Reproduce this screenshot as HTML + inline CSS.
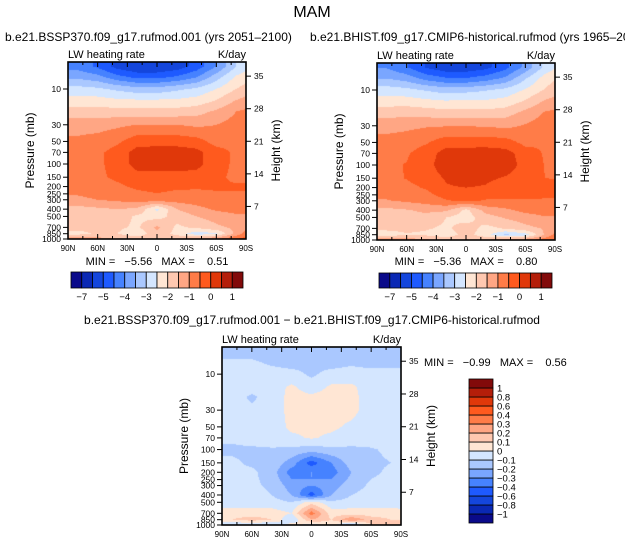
<!DOCTYPE html>
<html><head><meta charset="utf-8">
<style>
html,body{margin:0;padding:0;background:#fff;}
#wrap{position:relative;width:625px;height:545px;overflow:hidden;font-family:"Liberation Sans",sans-serif;}
canvas,svg{position:absolute;left:0;top:0;}
text{white-space:pre;}
</style></head>
<body>
<div id="wrap">
<canvas id="cv" width="625" height="545"></canvas>
<svg id="sv" width="625" height="545" xmlns="http://www.w3.org/2000/svg"></svg>
</div>
<script>
// ---- data ----
const pressures = [5,7,10,15,20,30,50,70,100,150,200,300,400,500,700,850,1000];
const lats = [90,70,50,30,10,-10,-30,-50,-70,-90];
const sspField = [
[-4.2,-4.6,-5.2,-5.5,-5.5,-5.3,-4.8,-4.0,-3.0,-2.4],
[-3.6,-3.8,-4.3,-4.6,-4.6,-4.4,-4.0,-3.2,-2.4,-2.0],
[-2.8,-2.9,-3.1,-3.3,-3.3,-3.1,-2.9,-2.5,-2.0,-1.6],
[-2.2,-2.2,-2.3,-2.3,-2.3,-2.3,-2.2,-1.9,-1.4,-1.1],
[-1.8,-1.8,-1.8,-1.8,-1.8,-1.8,-1.7,-1.4,-1.0,-0.8],
[-1.2,-1.2,-1.1,-1.0,-1.0,-1.0,-1.1,-1.0,-0.8,-0.7],
[-0.9,-0.8,-0.6,-0.2,-0.2,-0.2,-0.3,-0.7,-0.6,-0.5],
[-0.7,-0.6,-0.3,0.2,0.25,0.25,0.15,-0.3,-0.6,-0.6],
[-0.7,-0.6,-0.3,0.2,0.25,0.25,0.15,-0.3,-0.6,-0.6],
[-0.7,-0.6,-0.4,-0.2,-0.2,-0.2,-0.2,-0.4,-0.6,-0.6],
[-0.8,-0.7,-0.6,-0.4,-0.3,-0.4,-0.45,-0.45,-0.45,-0.45],
[-1.1,-1.0,-0.9,-0.8,-0.7,-0.8,-0.7,-0.6,-0.6,-0.6],
[-1.7,-1.6,-1.5,-1.6,-2.6,-1.5,-1.2,-0.9,-0.8,-0.8],
[-1.8,-1.7,-1.7,-2.1,-2.2,-1.8,-1.5,-1.3,-1.1,-1.1],
[-1.8,-1.8,-1.9,-2.1,-1.4,-2.1,-1.9,-1.6,-1.4,-0.8],
[-2.2,-1.9,-2.0,-2.4,-1.6,-2.2,-2.8,-2.6,-1.3,-0.3],
[-1.0,-1.3,-1.5,-1.6,-1.5,-1.5,-1.2,-1.0,-0.5,0.0]];
const diffField = [
[-0.15,-0.15,-0.15,-0.15,-0.15,-0.15,-0.15,-0.15,-0.15,-0.15],
[-0.08,-0.08,-0.12,-0.15,-0.12,-0.15,-0.12,-0.15,-0.15,-0.15],
[-0.05,-0.05,-0.05,-0.06,-0.12,-0.06,-0.05,-0.05,-0.05,-0.05],
[-0.05,-0.05,-0.05,0.02,-0.05,0.02,0.02,-0.05,-0.05,0.02],
[-0.05,-0.12,-0.05,0.03,0.02,0.04,0.03,-0.05,-0.05,0.02],
[-0.05,-0.08,-0.05,0.03,0.03,0.04,0.03,-0.05,-0.05,-0.02],
[-0.05,-0.05,-0.05,0.02,0.02,0.02,-0.02,-0.05,-0.05,-0.05],
[-0.08,-0.05,-0.05,-0.02,0.01,-0.02,-0.05,-0.05,-0.05,-0.05],
[-0.12,-0.12,-0.11,-0.12,-0.15,-0.12,-0.12,-0.11,-0.08,-0.08],
[-0.08,-0.12,-0.12,-0.25,-0.45,-0.3,-0.15,-0.12,-0.1,-0.08],
[-0.07,-0.08,-0.15,-0.35,-0.3,-0.35,-0.2,-0.12,-0.08,-0.07],
[-0.07,-0.08,-0.12,-0.25,-0.3,-0.25,-0.15,-0.08,-0.07,-0.07],
[-0.06,-0.06,-0.1,-0.2,-0.45,-0.2,-0.1,-0.06,-0.06,-0.06],
[-0.05,-0.05,-0.06,-0.1,0.05,-0.08,-0.06,-0.05,-0.05,-0.05],
[0.05,0.05,0.05,0.0,0.35,0.05,0.05,0.05,0.05,0.02],
[0.1,0.15,0.1,-0.1,0.2,0.1,0.3,0.15,0.1,0.1],
[-0.1,-0.12,-0.1,0.05,-0.05,0.05,-0.2,0.1,0.2,0.05]];
const absLevels = [-7,-6,-5,-4.5,-4,-3.5,-3,-2.5,-2,-1.5,-1,-0.5,0,0.5,1];
const absLabels = ["−7","","−5","","−4","","−3","","−2","","−1","","0","","1"];
const diffLevels = [-1,-0.8,-0.6,-0.4,-0.3,-0.2,-0.1,0,0.1,0.2,0.3,0.4,0.6,0.8,1];
const diffLabels = ["−1","−0.8","−0.6","−0.4","−0.3","−0.2","−0.1","0","0.1","0.2","0.3","0.4","0.6","0.8","1"];
const palette = ['#0a0a8a','#0a28b4','#1446dc','#1e5aff','#4682ff','#7aa6ff','#aac8ff','#d4e6ff','#ffe6d4','#ffc8b0','#ffa684','#ff7c48','#ff5a1e','#e0380a','#b41e0a','#820a0a'];
const pTicks = [10,30,50,70,100,150,200,250,300,400,500,700,850,1000];
const pTickLabels = ["10","30","50","70","100","150","200","250","300","400","500","700","850","1000"];
const hTicks = [7,14,21,28,35];
const latTicks = [90,60,30,0,-30,-60,-90];
const latLabels = ["90N","60N","30N","0","30S","60S","90S"];
const histField = sspField.map((r,i)=>r.map((v,j)=>+(v - diffField[i][j]).toFixed(2)));

// ---- drawing ----
const ctx = document.getElementById('cv').getContext('2d');
const sv = document.getElementById('sv');
const NS = 'http://www.w3.org/2000/svg';
function mk(tag, attrs, txt){const e=document.createElementNS(NS,tag);for(const k in attrs)e.setAttribute(k,attrs[k]);if(txt!==undefined)e.textContent=txt;sv.appendChild(e);return e;}
function hex(c){return [parseInt(c.slice(1,3),16),parseInt(c.slice(3,5),16),parseInt(c.slice(5,7),16)];}
const palRGB = palette.map(hex);
function levelIdx(v, lev){let i=0;while(i<lev.length && v>=lev[i])i++;return i;}
const logP = pressures.map(p=>Math.log10(p));

function makeAxes(x0,y0,w,h){
  const ppd = 75*h/177;
  return {
    x: lat => x0 + (90-lat)/180*w,
    y: p => y0 + h - ppd*(3-Math.log10(p)),
    lat: px => 90 - (px-x0)/w*180,
    lp: py => 3 - (y0+h-py)/ppd
  };
}
function sample(grid, lat, lp){
  const fj = (90-lat)/20 - 0.5;
  let j0 = Math.floor(fj), tj = fj-j0;
  if(j0<0){j0=0;tj=0;} if(j0>=lats.length-1){j0=lats.length-2;tj=1;}
  let i0=0;
  if(lp<=logP[0]){i0=0;}
  else{ while(i0<logP.length-2 && lp>logP[i0+1]) i0++; }
  let ti=(lp-logP[i0])/(logP[i0+1]-logP[i0]); ti=Math.max(0,Math.min(1,ti));
  const a=grid[i0][j0],b=grid[i0][j0+1],c=grid[i0+1][j0],d=grid[i0+1][j0+1];
  return (a*(1-tj)+b*tj)*(1-ti)+(c*(1-tj)+d*tj)*ti;
}
function drawField(grid, lev, x0,y0,w,h){
  const ax = makeAxes(x0,y0,w,h);
  const img = ctx.createImageData(w,h);
  for(let py=0;py<h;py++){
    const lp = ax.lp(y0+py+0.5);
    for(let px=0;px<w;px++){
      const v = sample(grid, ax.lat(x0+px+0.5), lp);
      const c = palRGB[levelIdx(v,lev)];
      const k=(py*w+px)*4; img.data[k]=c[0];img.data[k+1]=c[1];img.data[k+2]=c[2];img.data[k+3]=255;
    }
  }
  ctx.putImageData(img,x0,y0);
  return ax;
}
function drawFrame(name,x0,y0,w,h,ax){
  mk('rect',{x:x0,y:y0,width:w,height:h,fill:'none',stroke:'#000','stroke-width':1.6,});
  pTicks.forEach((p,i)=>{
    const y=ax.y(p);
    mk('line',{x1:x0-5,y1:y,x2:x0,y2:y,stroke:'#000','stroke-width':1,});
    mk('text',{x:x0-7,y:y+3,'font-size':8.5,'text-anchor':'end',},pTickLabels[i]);
  });
  hTicks.forEach(z=>{
    const y=ax.y(1000*Math.exp(-z/7));
    mk('line',{x1:x0+w,y1:y,x2:x0+w+5,y2:y,stroke:'#000','stroke-width':1,});
    mk('text',{x:x0+w+8,y:y+3,'font-size':8.5,},String(z));
  });
  latTicks.forEach((l,i)=>{
    const x=ax.x(l);
    mk('line',{x1:x,y1:y0+h,x2:x,y2:y0+h-5,stroke:'#000','stroke-width':1,});
    mk('line',{x1:x,y1:y0,x2:x,y2:y0+5,stroke:'#000','stroke-width':1,});
    mk('text',{x:x,y:y0+h+12,'font-size':8,'text-anchor':'middle',},latLabels[i]);
  });
  for(let l=75;l>-90;l-=15){ if(l%30===0)continue; const x=ax.x(l);
    mk('line',{x1:x,y1:y0,x2:x,y2:y0+3,stroke:'#000','stroke-width':1,});
    mk('line',{x1:x,y1:y0+h,x2:x,y2:y0+h-3,stroke:'#000','stroke-width':1,});}
  mk('text',{x:x0,y:y0-4,'font-size':11,},'LW heating rate');
  mk('text',{x:x0+w,y:y0-4,'font-size':11,'text-anchor':'end',},'K/day');
  mk('text',{x:0,y:0,'font-size':12,'text-anchor':'middle',transform:`translate(${x0-34},${y0+h/2}) rotate(-90)`,},'Pressure (mb)');
  mk('text',{x:0,y:0,'font-size':12,'text-anchor':'middle',transform:`translate(${x0+w+34},${y0+h/2}) rotate(-90)`,},'Height (km)');
}
function hBar(name,x0,y0,w,h,labels){
  const n=palette.length, bw=w/n;
  palette.forEach((c,i)=>mk('rect',{x:x0+i*bw,y:y0,width:bw,height:h,fill:c,stroke:'#000','stroke-width':0.8,}));
  labels.forEach((t,i)=>{ if(t) mk('text',{x:x0+(i+1)*bw,y:y0+h+12,'font-size':9.5,'text-anchor':'middle',},t);});
}
function vBar(name,x0,y0,w,h,labels){
  const n=palette.length, bh=h/n;
  palette.forEach((c,i)=>mk('rect',{x:x0,y:y0+(n-1-i)*bh,width:w,height:bh,fill:c,stroke:'#000','stroke-width':0.8,}));
  labels.forEach((t,i)=>mk('text',{x:x0+w+4,y:y0+(n-1-i)*bh+3.5,'font-size':9.5,},t));
}

const a1 = drawField(sspField, absLevels, 68,62,178,177);
const a2 = drawField(histField, absLevels, 377,63,178,177);
const a3 = drawField(diffField, diffLevels, 222,347,179,178);
drawFrame('ssp-panel',68,62,178,177,a1);
drawFrame('hist-panel',377,63,178,177,a2);
drawFrame('diff-panel',222,347,179,178,a3);

mk('text',{x:312,y:17,'font-size':16,'text-anchor':'middle',},'MAM');
mk('text',{x:5,y:41,'font-size':12,},'b.e21.BSSP370.f09_g17.rufmod.001 (yrs 2051–2100)');
mk('text',{x:310,y:41,'font-size':12,},'b.e21.BHIST.f09_g17.CMIP6-historical.rufmod (yrs 1965–2014)');
mk('text',{x:312,y:324,'font-size':12,'text-anchor':'middle',},'b.e21.BSSP370.f09_g17.rufmod.001 − b.e21.BHIST.f09_g17.CMIP6-historical.rufmod');
mk('text',{x:157,y:265,'font-size':11,'text-anchor':'middle',},'MIN =   −5.56   MAX =    0.51');
mk('text',{x:466,y:265,'font-size':11,'text-anchor':'middle',},'MIN =   −5.36   MAX =    0.80');
mk('text',{x:424,y:366,'font-size':11,},'MIN =   −0.99   MAX =    0.56');
hBar('ssp-colorbar',71,272,172,16,absLabels);
hBar('hist-colorbar',379,273,173,15,absLabels);
vBar('diff-colorbar',469,379,24,144,diffLabels);
</script>
</body></html>
